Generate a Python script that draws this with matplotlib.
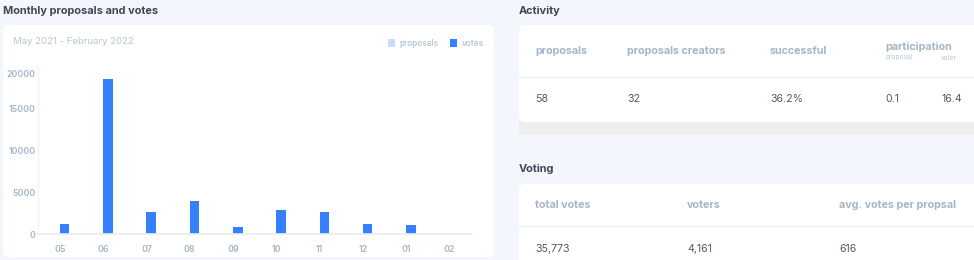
import matplotlib
matplotlib.use("Agg")
import matplotlib.pyplot as plt
from matplotlib.patches import FancyBboxPatch, Rectangle
from matplotlib.transforms import ScaledTranslation

plt.rcParams['font.family'] = ['Inter', 'DejaVu Sans']

# ---- data ----
months = ["05", "06", "07", "08", "09", "10", "11", "12", "01", "02"]
votes = [1150, 18600, 2650, 3900, 800, 2850, 2600, 1200, 1050, 0]
proposals = [4, 10, 6, 8, 5, 7, 7, 5, 4, 2]
y_ticks = [0, 5000, 10000, 15000, 20000]

activity_labels = ["proposals", "proposals creators", "successful"]
activity_values = ["58", "32", "36.2%"]
participation_sub = ["proposal", "voter"]
participation_values = ["0.1", "16.4"]

voting_labels = ["total votes", "voters", "avg. votes per propsal"]
voting_values = ["35,773", "4,161", "616"]

# ---- styling ----
BG = "#f3f6fd"
CARD = "#ffffff"
TITLE = "#3d4757"
LABEL = "#a5b6c6"
SUBLABEL = "#b9c6d3"
VALUE = "#505a68"
BLUE = "#3480ff"
LIGHT_BLUE = "#c9dcfc"
DIVIDER = "#edf1f6"

W, H = 974, 260
fig = plt.figure(figsize=(W / 100, H / 100), dpi=100)
fig.patch.set_facecolor(BG)

# canvas axes in pixel units (y grows downward)
bg = fig.add_axes([0, 0, 1, 1])
bg.set_xlim(0, W)
bg.set_ylim(H, 0)
bg.axis("off")


def card(x0, y0, x1, y1, color=CARD, r=6):
    bg.add_patch(FancyBboxPatch((x0 + r, y0 + r), (x1 - x0) - 2 * r, (y1 - y0) - 2 * r,
                                boxstyle=f"round,pad={r}", fc=color, ec="none", zorder=1))


# ---- left panel: monthly bars ----
bg.text(3, 11, "Monthly proposals and votes", fontsize=7.9, fontweight="bold",
        color=TITLE, va="center", ha="left")
card(3, 25, 494, 257)
bg.text(13, 41, "May 2021 - February 2022", fontsize=6.9, color=SUBLABEL,
        va="center", ha="left")

# legend
bg.add_patch(Rectangle((387.5, 39), 7.5, 7.5, fc=LIGHT_BLUE, ec="none", zorder=2))
bg.text(400, 43, "proposals", fontsize=5.9, fontweight="semibold", color=SUBLABEL,
        va="center", ha="left", zorder=2)
bg.add_patch(Rectangle((449.5, 39), 7.5, 7.5, fc=BLUE, ec="none", zorder=2))
bg.text(462, 43, "votes", fontsize=5.9, fontweight="semibold", color=SUBLABEL,
        va="center", ha="left", zorder=2)

ax_left, ax_right = 38.3, 471.0
ax_bottom, ax_top = 234.0, 67.2
ax = fig.add_axes([ax_left / W, 1 - ax_bottom / H,
                   (ax_right - ax_left) / W, (ax_bottom - ax_top) / H])
ax.set_facecolor("none")
x = list(range(len(months)))
bw = 0.22
ax.bar([i - bw / 2 for i in x], proposals, width=bw, color=LIGHT_BLUE, zorder=2)
ax.bar([i + bw / 2 for i in x], votes, width=bw, color=BLUE, zorder=2)
ax.set_xlim(-0.5, len(months) - 0.5)
ax.set_ylim(0, 20000)
ax.set_xticks(x)
ax.set_xticklabels(months)
ax.set_yticks(y_ticks)
ax.set_yticklabels([str(t) for t in y_ticks])
ax.tick_params(axis="both", length=0, labelsize=6.3, labelcolor=LABEL)
ax.tick_params(axis="x", pad=8)
ax.tick_params(axis="y", pad=2)
for lbl in ax.get_xticklabels() + ax.get_yticklabels():
    lbl.set_fontweight("semibold")
# the top label sits a little below its gridline
top_lbl = ax.get_yticklabels()[-1]
top_lbl.set_transform(top_lbl.get_transform() +
                      ScaledTranslation(0, -6.5 / 100, fig.dpi_scale_trans))
for s in ["top", "right"]:
    ax.spines[s].set_visible(False)
ax.spines["left"].set_color("#f1f4f8")
ax.spines["bottom"].set_color("#e9eef4")
ax.spines["left"].set_linewidth(1.0)
ax.spines["bottom"].set_linewidth(1.2)

# ---- right panel: activity ----
bg.text(519, 11, "Activity", fontsize=7.9, fontweight="bold", color=TITLE,
        va="center", ha="left")
bg.add_patch(Rectangle((519, 118), W - 519 + 10, 17, fc="#eeeeee", ec="none", zorder=1))
card(519, 25, W + 20, 122)
act_x = [535, 627, 770]
for xx, lab, val in zip(act_x, activity_labels, activity_values):
    bg.text(xx, 51, lab, fontsize=7.75, fontweight="bold", color=LABEL,
            va="center", ha="left", zorder=3)
    bg.text(xx, 99.5, val, fontsize=7.6, color=VALUE, va="center", ha="left", zorder=3)
bg.text(885, 47, "participation", fontsize=7.75, fontweight="bold", color=LABEL,
        va="center", ha="left", zorder=3)
for xx, sub, val in zip([885, 941], participation_sub, participation_values):
    bg.text(xx, 57.5, sub, fontsize=4.7, color=SUBLABEL, va="center", ha="left", zorder=3)
    bg.text(xx, 99.5, val, fontsize=7.6, color=VALUE, va="center", ha="left", zorder=3)
bg.plot([519, W], [76.5, 76.5], color=DIVIDER, lw=0.9, zorder=3)

# ---- right panel: voting ----
bg.text(519, 169.5, "Voting", fontsize=7.9, fontweight="bold", color=TITLE,
        va="center", ha="left")
card(519, 184, W + 20, H + 20)
vote_x = [535, 687, 839]
for xx, lab, val in zip(vote_x, voting_labels, voting_values):
    bg.text(xx, 205, lab, fontsize=7.75, fontweight="bold", color=LABEL,
            va="center", ha="left", zorder=3)
    bg.text(xx, 249, val, fontsize=7.6, color=VALUE, va="center", ha="left", zorder=3)
bg.plot([519, W], [226, 226], color=DIVIDER, lw=0.9, zorder=3)

fig.savefig("out.png", dpi=100, facecolor=BG)
